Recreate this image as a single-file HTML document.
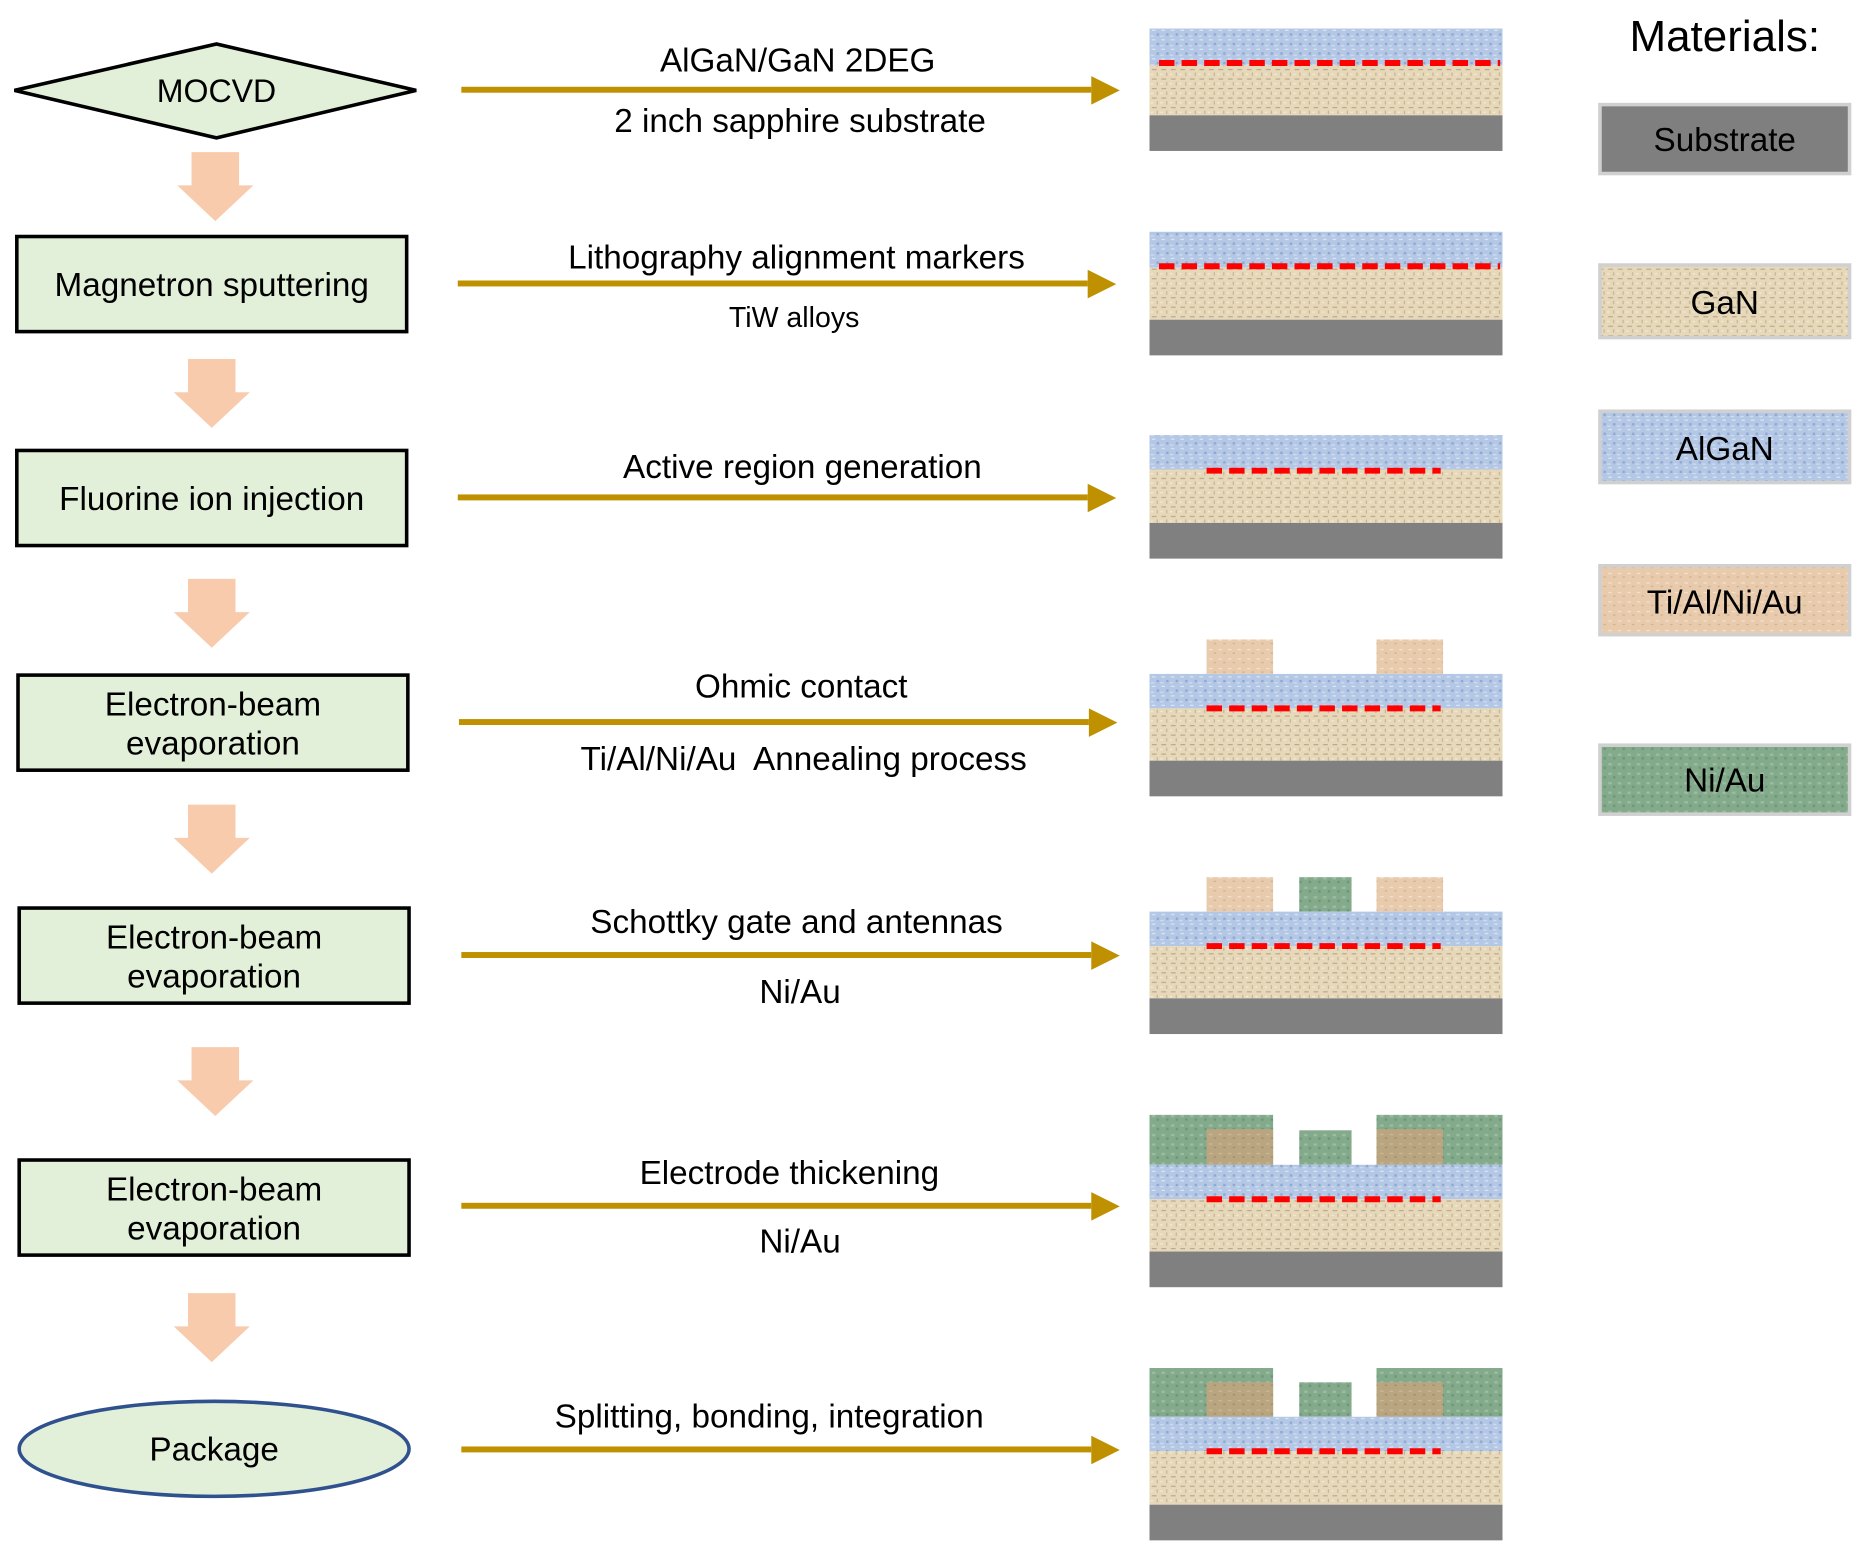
<!DOCTYPE html>
<html><head><meta charset="utf-8"><style>
html,body{margin:0;padding:0;background:#fff;}
svg{display:block;}
text{font-family:"Liberation Sans",Arial,sans-serif;fill:#000;}
</style></head><body>
<svg width="1864" height="1557" viewBox="0 0 1568 1310" xmlns="http://www.w3.org/2000/svg">
<defs>
<pattern id="gan" width="8" height="8" patternUnits="userSpaceOnUse"><rect width="8" height="8" fill="#e6d8b8"/><rect x="1" y="2" width="4" height="1" fill="#b8a98e"/><rect x="5" y="5" width="1" height="3" fill="#c4b597"/><rect x="0" y="6" width="2" height="1" fill="#f4ecd8"/></pattern>
<pattern id="algan" width="8" height="8" patternUnits="userSpaceOnUse"><rect width="8" height="8" fill="#b4c8e6"/><rect x="1" y="1" width="3" height="1" fill="#dbe6f5"/><rect x="5" y="4" width="2" height="2" fill="#8ea8cf"/><rect x="0" y="6" width="3" height="1" fill="#d0ddf0"/></pattern>
<pattern id="ti" width="8" height="8" patternUnits="userSpaceOnUse"><rect width="8" height="8" fill="#e8cbac"/><rect x="1" y="2" width="3" height="1" fill="#f5e2cf"/><rect x="5" y="5" width="2" height="1" fill="#cfae8d"/></pattern>
<pattern id="ni" width="8" height="8" patternUnits="userSpaceOnUse"><rect width="8" height="8" fill="#84aa8c"/><rect x="1" y="2" width="3" height="2" fill="#9bbba2"/><rect x="5" y="5" width="2" height="2" fill="#6d9576"/></pattern>
<pattern id="tidark" width="8" height="8" patternUnits="userSpaceOnUse"><rect width="8" height="8" fill="#b9a57f"/><rect x="1" y="2" width="3" height="1" fill="#cdb994"/><rect x="5" y="5" width="2" height="1" fill="#9d8a66"/></pattern>
<g id="da"><polygon points="-20,0 20,0 20,28 32,28 0,58 -32,28 -20,28" fill="#f8cbad"/></g>
</defs>

<polygon points="12,76 182,37 350,76 182,116" fill="#e2efd9" stroke="#000" stroke-width="3"/>
<text x="182" y="86" font-size="27" text-anchor="middle">MOCVD</text>
<use href="#da" x="181" y="128"/>
<rect x="14" y="199" width="328" height="80" fill="#e2efd9" stroke="#000" stroke-width="3"/>
<text x="178" y="249" font-size="28" text-anchor="middle">Magnetron sputtering</text>
<use href="#da" x="178" y="302"/>
<rect x="14" y="379" width="328" height="80" fill="#e2efd9" stroke="#000" stroke-width="3"/>
<text x="178" y="429" font-size="28" text-anchor="middle">Fluorine ion injection</text>
<use href="#da" x="178" y="487"/>
<rect x="15" y="568" width="328" height="80" fill="#e2efd9" stroke="#000" stroke-width="3"/>
<text x="179" y="602" font-size="28" text-anchor="middle">Electron-beam</text>
<text x="179" y="635" font-size="28" text-anchor="middle">evaporation</text>
<use href="#da" x="178" y="677"/>
<rect x="16" y="764" width="328" height="80" fill="#e2efd9" stroke="#000" stroke-width="3"/>
<text x="180" y="798" font-size="28" text-anchor="middle">Electron-beam</text>
<text x="180" y="831" font-size="28" text-anchor="middle">evaporation</text>
<use href="#da" x="181" y="881"/>
<rect x="16" y="976" width="328" height="80" fill="#e2efd9" stroke="#000" stroke-width="3"/>
<text x="180" y="1010" font-size="28" text-anchor="middle">Electron-beam</text>
<text x="180" y="1043" font-size="28" text-anchor="middle">evaporation</text>
<use href="#da" x="178" y="1088"/>
<ellipse cx="180" cy="1219" rx="164" ry="40" fill="#e2efd9" stroke="#2f528f" stroke-width="3"/>
<text x="180" y="1229" font-size="28" text-anchor="middle">Package</text>

<g fill="#bf9000">
<rect x="388" y="73" width="530" height="5"/><polygon points="918,64 942,76 918,88"/>
<rect x="385" y="236" width="530" height="5"/><polygon points="915,227 939,239 915,251"/>
<rect x="385" y="416" width="530" height="5"/><polygon points="915,407 939,419 915,431"/>
<rect x="386" y="605" width="530" height="5"/><polygon points="916,596 940,608 916,620"/>
<rect x="388" y="801" width="530" height="5"/><polygon points="918,792 942,804 918,816"/>
<rect x="388" y="1012" width="530" height="5"/><polygon points="918,1003 942,1015 918,1027"/>
<rect x="388" y="1217" width="530" height="5"/><polygon points="918,1208 942,1220 918,1232"/>
</g>
<g font-size="28" text-anchor="middle">
<text x="671" y="60">AlGaN/GaN 2DEG</text>
<text x="673" y="111">2 inch sapphire substrate</text>
<text x="670" y="226">Lithography alignment markers</text>
<text x="668" y="275" font-size="24">TiW alloys</text>
<text x="675" y="402">Active region generation</text>
<text x="674" y="587">Ohmic contact</text>
<text x="676" y="648" xml:space="preserve">Ti/Al/Ni/Au  Annealing process</text>
<text x="670" y="785">Schottky gate and antennas</text>
<text x="673" y="844">Ni/Au</text>
<text x="664" y="996">Electrode thickening</text>
<text x="673" y="1054">Ni/Au</text>
<text x="647" y="1201">Splitting, bonding, integration</text>
</g>

<g>
<rect x="967" y="24" width="297" height="31" fill="url(#algan)"/>
<rect x="967" y="55" width="297" height="42" fill="url(#gan)"/>
<rect x="967" y="97" width="297" height="30" fill="#808080"/>
<line x1="975" y1="53" x2="1262" y2="53" stroke="#f00" stroke-width="5" stroke-dasharray="13,6"/>

<rect x="967" y="195" width="297" height="30" fill="url(#algan)"/>
<rect x="967" y="225" width="297" height="44" fill="url(#gan)"/>
<rect x="967" y="269" width="297" height="30" fill="#808080"/>
<line x1="975" y1="224" x2="1262" y2="224" stroke="#f00" stroke-width="5" stroke-dasharray="13,6"/>

<rect x="967" y="366" width="297" height="29" fill="url(#algan)"/>
<rect x="967" y="395" width="297" height="45" fill="url(#gan)"/>
<rect x="967" y="440" width="297" height="30" fill="#808080"/>
<line x1="1015" y1="396" x2="1212" y2="396" stroke="#f00" stroke-width="5" stroke-dasharray="13,6"/>

<rect x="1015" y="538" width="56" height="29" fill="url(#ti)"/>
<rect x="1158" y="538" width="56" height="29" fill="url(#ti)"/>
<rect x="967" y="567" width="297" height="29" fill="url(#algan)"/>
<rect x="967" y="596" width="297" height="44" fill="url(#gan)"/>
<rect x="967" y="640" width="297" height="30" fill="#808080"/>
<line x1="1015" y1="596" x2="1212" y2="596" stroke="#f00" stroke-width="5" stroke-dasharray="13,6"/>

<rect x="1015" y="738" width="56" height="29" fill="url(#ti)"/>
<rect x="1093" y="738" width="44" height="29" fill="url(#ni)"/>
<rect x="1158" y="738" width="56" height="29" fill="url(#ti)"/>
<rect x="967" y="767" width="297" height="29" fill="url(#algan)"/>
<rect x="967" y="796" width="297" height="44" fill="url(#gan)"/>
<rect x="967" y="840" width="297" height="30" fill="#808080"/>
<line x1="1015" y1="796" x2="1212" y2="796" stroke="#f00" stroke-width="5" stroke-dasharray="13,6"/>

<rect x="967" y="938" width="104" height="42" fill="url(#ni)"/>
<rect x="1158" y="938" width="106" height="42" fill="url(#ni)"/>
<rect x="1015" y="950" width="56" height="30" fill="url(#tidark)"/>
<rect x="1158" y="950" width="56" height="30" fill="url(#tidark)"/>
<rect x="1093" y="951" width="44" height="29" fill="url(#ni)"/>
<rect x="967" y="980" width="297" height="29" fill="url(#algan)"/>
<rect x="967" y="1009" width="297" height="44" fill="url(#gan)"/>
<rect x="967" y="1053" width="297" height="30" fill="#808080"/>
<line x1="1015" y1="1009" x2="1212" y2="1009" stroke="#f00" stroke-width="5" stroke-dasharray="13,6"/>

<rect x="967" y="1151" width="104" height="41" fill="url(#ni)"/>
<rect x="1158" y="1151" width="106" height="41" fill="url(#ni)"/>
<rect x="1015" y="1163" width="56" height="29" fill="url(#tidark)"/>
<rect x="1158" y="1163" width="56" height="29" fill="url(#tidark)"/>
<rect x="1093" y="1163" width="44" height="29" fill="url(#ni)"/>
<rect x="967" y="1192" width="297" height="29" fill="url(#algan)"/>
<rect x="967" y="1221" width="297" height="45" fill="url(#gan)"/>
<rect x="967" y="1266" width="297" height="30" fill="#808080"/>
<line x1="1015" y1="1221" x2="1212" y2="1221" stroke="#f00" stroke-width="5" stroke-dasharray="13,6"/>
</g>

<text x="1451" y="43" font-size="37" text-anchor="middle">Materials:</text>
<g stroke="#d0d0d0" stroke-width="3">
<rect x="1346" y="88" width="210" height="58" fill="#7f7f7f"/>
<rect x="1346" y="223" width="210" height="61" fill="url(#gan)"/>
<rect x="1346" y="346" width="210" height="60" fill="url(#algan)"/>
<rect x="1346" y="476" width="210" height="58" fill="url(#ti)"/>
<rect x="1346" y="627" width="210" height="58" fill="url(#ni)"/>
</g>
<g font-size="28" text-anchor="middle">
<text x="1451" y="127">Substrate</text>
<text x="1451" y="264">GaN</text>
<text x="1451" y="387">AlGaN</text>
<text x="1451" y="516">Ti/Al/Ni/Au</text>
<text x="1451" y="666">Ni/Au</text>
</g>
</svg>
</body></html>
